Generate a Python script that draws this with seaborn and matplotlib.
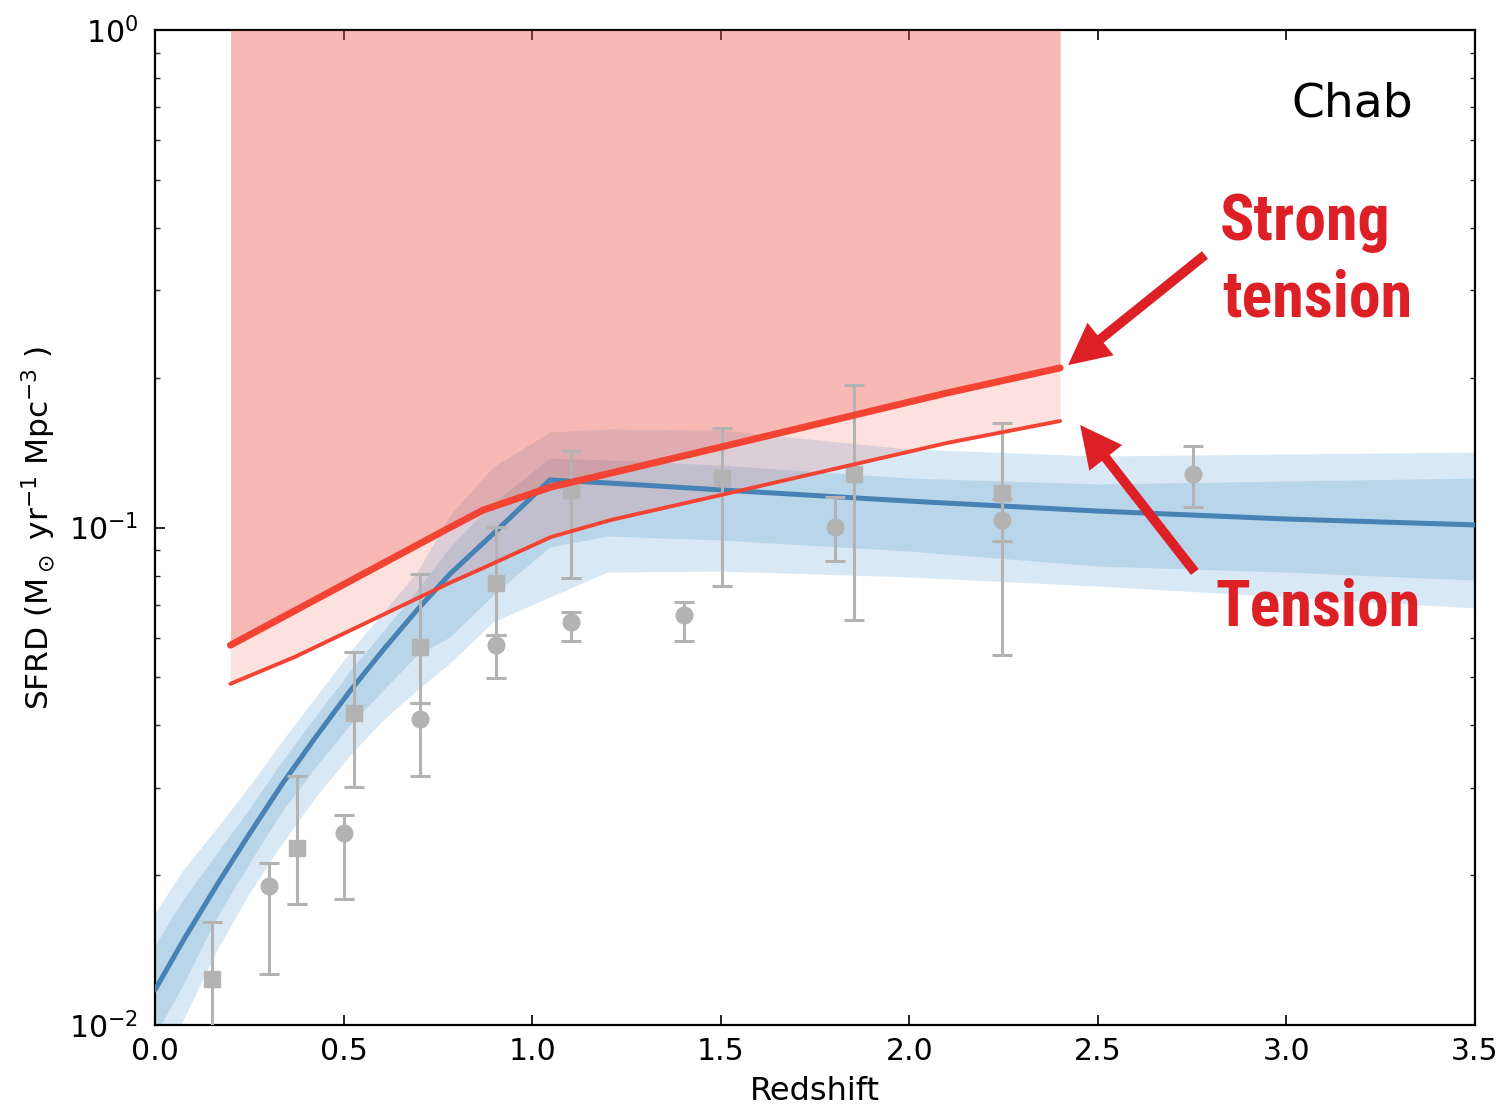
import numpy as np
import pandas as pd
import matplotlib
matplotlib.use("Agg")
import matplotlib.pyplot as plt
from matplotlib.ticker import FormatStrFormatter, LogLocator
import seaborn as sns

# ---------------- data ----------------
# model grid (redshift)
z_model = [0.0, 0.074, 0.164, 0.252, 0.339, 0.430, 0.517, 0.605, 0.695, 0.782, 0.896,
           1.047, 1.2, 1.5, 2.0, 2.5, 3.0, 3.5]
sfrd_median = [0.01176, 0.01475, 0.01911, 0.02432, 0.03065, 0.03827, 0.04692, 0.05673,
               0.06828, 0.08063, 0.09703, 0.1246, 0.1229, 0.1190, 0.1130, 0.1079, 0.1040, 0.1012]
sfrd_1sig_hi = [0.01448, 0.01784, 0.02217, 0.02731, 0.03409, 0.04219, 0.05147, 0.06194,
                0.07488, 0.09137, 0.1120, 0.1379, 0.1367, 0.1335, 0.1257, 0.1223, 0.1240, 0.1257]
sfrd_1sig_lo = [0.009548, 0.01203, 0.01649, 0.02126, 0.02705, 0.03331, 0.04009, 0.04713,
                0.05541, 0.06025, 0.07315, 0.09137, 0.09614, 0.09438, 0.08967, 0.08367, 0.08136, 0.07840]
sfrd_2sig_hi = [0.01679, 0.02049, 0.02489, 0.03037, 0.03740, 0.04605, 0.05619, 0.06765,
                0.08139, 0.1059, 0.1323, 0.1556, 0.1578, 0.1570, 0.1438, 0.1392, 0.1405, 0.1418]
sfrd_2sig_lo = [0.00812, 0.01023, 0.01415, 0.01851, 0.02332, 0.02900, 0.03489, 0.04103,
                0.04713, 0.05341, 0.06457, 0.07248, 0.08139, 0.08174, 0.07955, 0.07627, 0.07248, 0.06889]

# tension limits
z_limit = [0.2, 0.37, 0.78, 0.87, 1.05, 1.21, 1.5, 2.1, 2.4]
strong_tension = [0.0580, 0.0680, 0.0998, 0.1084, 0.1206, 0.1287, 0.1451, 0.1864, 0.2093]
tension = [0.0485, 0.0549, 0.0773, 0.0829, 0.0957, 0.1036, 0.1162, 0.1479, 0.1637]

# observations (squares)
sq_z = [0.15, 0.377, 0.528, 0.703, 0.904, 1.103, 1.503, 1.853, 2.245]
sq_val = [0.01238, 0.0227, 0.0424, 0.0575, 0.0773, 0.1190, 0.1257, 0.128, 0.1173]
sq_hi = [0.0161, 0.0317, 0.0562, 0.0806, 0.1002, 0.1425, 0.1585, 0.1934, 0.1622]
sq_lo = [0.0085, 0.0175, 0.0301, 0.0444, 0.0608, 0.0791, 0.0763, 0.0652, 0.0555]

# observations (circles)
ci_z = [0.302, 0.501, 0.703, 0.904, 1.103, 1.403, 1.803, 2.245, 2.752]
ci_val = [0.0190, 0.0243, 0.0412, 0.0580, 0.0646, 0.0667, 0.1002, 0.1036, 0.128]
ci_hi = [0.0212, 0.0264, 0.0444, 0.0608, 0.0676, 0.0708, 0.1151, 0.1141, 0.1458]
ci_lo = [0.01266, 0.0179, 0.0317, 0.0498, 0.0591, 0.0591, 0.0857, 0.0939, 0.1100]

x_ticks = [0.0, 0.5, 1.0, 1.5, 2.0, 2.5, 3.0, 3.5]

# ---------------- style ----------------
sns.set_theme(style="ticks")
plt.rcParams["font.family"] = ["DejaVu Sans"]
plt.rcParams["mathtext.fontset"] = "dejavusans"
plt.rcParams["text.color"] = "black"
plt.rcParams["axes.labelcolor"] = "black"

W, H = 1510, 1105
fig = plt.figure(figsize=(W / 100, H / 100), dpi=100)
ax = fig.add_axes([155 / W, 1 - 1025 / H, 1320 / W, 995 / H])
ax.set_yscale("log")

# bands
ax.fill_between(z_model, sfrd_2sig_lo, sfrd_2sig_hi, color="#d9e8f5", lw=0, zorder=1)
ax.fill_between(z_model, sfrd_1sig_lo, sfrd_1sig_hi, color="#b9d5e9", lw=0, zorder=2)

# tension regions
red_fill = (238 / 255, 82 / 255, 70 / 255)
ax.fill_between(z_limit, strong_tension, [1.0] * len(z_limit), color=red_fill, alpha=0.40, lw=0, zorder=3)
ax.fill_between(z_limit, tension, strong_tension, color=red_fill, alpha=0.17, lw=0, zorder=3)

# median model
sns.lineplot(x=z_model, y=sfrd_median, ax=ax, color="#4682b4", linewidth=3.6,
             estimator=None, sort=False, zorder=4)

# observations
gray = "#b3b3b3"
for zz, vv, lo, hi, mk in [(sq_z, sq_val, sq_lo, sq_hi, "s"), (ci_z, ci_val, ci_lo, ci_hi, "o")]:
    vv_a = np.array(vv)
    ax.errorbar(zz, vv, yerr=[vv_a - np.array(lo), np.array(hi) - vv_a],
                fmt=mk, color=gray, mec=gray, ms=12, elinewidth=2.2, ecolor=gray,
                capsize=7, capthick=2.2, zorder=5)

# tension lines
sns.lineplot(x=z_limit, y=strong_tension, ax=ax, color="#f24333", linewidth=5.0,
             estimator=None, sort=False, zorder=6)
sns.lineplot(x=z_limit, y=tension, ax=ax, color="#f24333", linewidth=2.8,
             estimator=None, sort=False, zorder=6)

# axes
ax.set_xlim(0, 3.5)
ax.set_ylim(1e-2, 1.0)
ax.set_xticks(x_ticks)
ax.xaxis.set_major_formatter(FormatStrFormatter("%.1f"))
ax.yaxis.set_minor_locator(LogLocator(base=10, subs=np.arange(2, 10)))
ax.tick_params(which="major", direction="in", length=7, width=1.2, top=True, right=True,
               labelsize=21.5, colors="black")
ax.tick_params(axis="x", which="major", pad=9)
ax.tick_params(axis="y", which="major", pad=12)
ax.tick_params(which="minor", direction="in", length=3.5, width=1.0, top=False, right=True,
               left=True, bottom=False)
for sp in ax.spines.values():
    sp.set_linewidth(1.6)
    sp.set_color("black")
    sp.set_visible(True)

ax.set_xlabel("Redshift", fontsize=23, labelpad=7, color="black")
ax.set_ylabel(r"SFRD (M$_\odot$ yr$^{-1}$ Mpc$^{-3}$ )", fontsize=22.5, labelpad=8, color="black")

# annotations
ax.text(0.953, 0.9126, "Chab", transform=ax.transAxes, ha="right", va="baseline",
        fontsize=34, color="black")

red_txt = "#dd1f26"
narrow = ["Liberation Sans Narrow", "Roboto Condensed", "Open Sans Condensed",
          "DejaVu Sans Condensed", "Liberation Sans", "DejaVu Sans"]
txt_kw = dict(transform=ax.transAxes, ha="left", va="baseline", fontsize=46,
              fontweight="bold", fontstretch="condensed", color=red_txt, family=narrow)
ax.text(0.807, 0.789, "Strong", **txt_kw)
ax.text(0.8085, 0.7116, "tension", **txt_kw)
ax.text(0.803, 0.402, "Tension", **txt_kw)

arrow_kw = dict(facecolor=red_txt, edgecolor="none", width=7, headwidth=30,
                headlength=30, shrink=0)
ax.annotate("", xy=(2.421, 0.212), xytext=(2.784, 0.353), xycoords="data",
            textcoords="data", arrowprops=arrow_kw, zorder=7, annotation_clip=False)
ax.annotate("", xy=(2.453, 0.1607), xytext=(2.757, 0.0814), xycoords="data",
            textcoords="data", arrowprops=arrow_kw, zorder=7, annotation_clip=False)

fig.savefig("out.png", dpi=100)
